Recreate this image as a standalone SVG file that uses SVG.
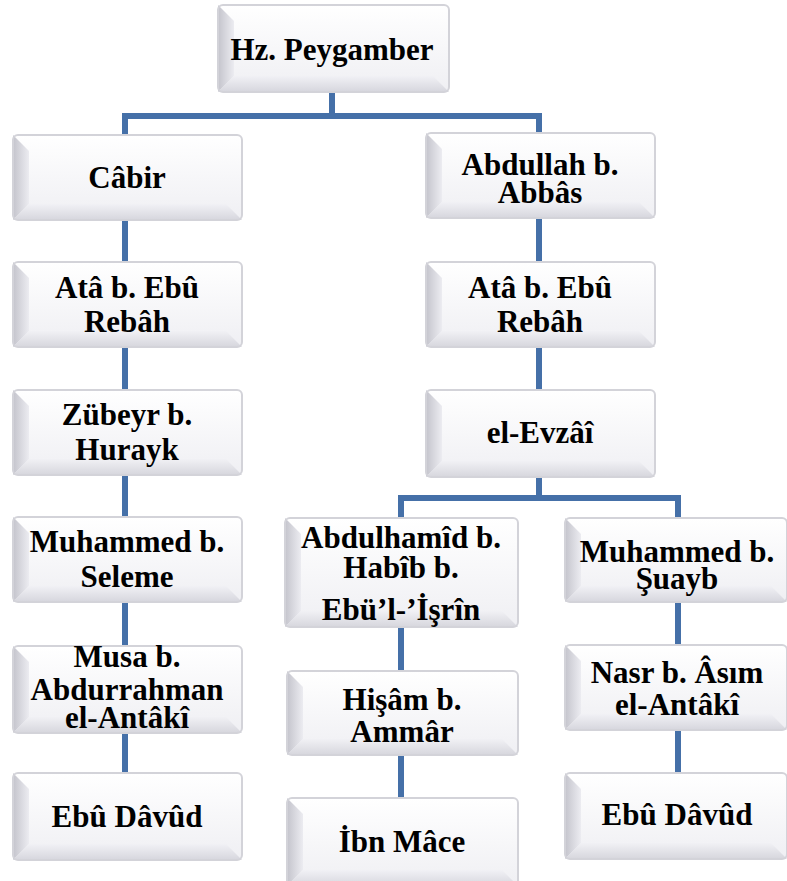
<svg xmlns="http://www.w3.org/2000/svg" width="787" height="881" viewBox="0 0 787 881">
<defs>
<linearGradient id="gFace" x1="0" y1="0" x2="0" y2="1">
<stop offset="0" stop-color="#ffffff"/>
<stop offset="1" stop-color="#efeff3"/>
</linearGradient>
<linearGradient id="gLeft" x1="0" y1="0" x2="1" y2="0">
<stop offset="0" stop-color="#c4c4cc"/>
<stop offset="1" stop-color="#ececf1"/>
</linearGradient>
<linearGradient id="gBot" x1="0" y1="1" x2="0" y2="0">
<stop offset="0" stop-color="#d6d6dd"/>
<stop offset="1" stop-color="#f1f1f5"/>
</linearGradient>
</defs>
<style>
.face{fill:url(#gFace);}
.bl{fill:url(#gLeft);}
.bb{fill:url(#gBot);}
.edge{fill:none;stroke:#d3d3d9;stroke-width:2;}
.t{font-family:"Liberation Serif","Times New Roman",serif;font-weight:bold;font-size:31px;fill:#000;text-anchor:middle;}
.c{fill:none;stroke:#4570a8;stroke-width:6;}
</style>

<g id="connectors">
<path class="c" d="M332,92 V116 M125,135 V116 H539 V133"/>
<path class="c" d="M125,220 V262 M125,347 V390 M125,475 V517 M125,602 V646 M125,733 V773"/>
<path class="c" d="M539,218 V262 M539,347 V390 M539,477 V498 M401,518 V498 H678 V518"/>
<path class="c" d="M401,627 V671 M401,755 V798 M678,602 V645 M678,730 V773"/>
</g>

<g id="n-peygamber">
<rect class="face" x="218" y="5" width="231" height="87" rx="5"/>
<polygon class="bl" points="218,5 234,21 234,76 218,92"/>
<polygon class="bb" points="218,92 234,76 433,76 449,92"/>
<rect class="edge" x="218" y="5" width="231" height="87" rx="5"/>
<text class="t" x="332" y="60">Hz. Peygamber</text>
</g>

<g id="n-cabir">
<rect class="face" x="13" y="135" width="229" height="85" rx="5"/>
<polygon class="bl" points="13,135 29,151 29,204 13,220"/>
<polygon class="bb" points="13,220 29,204 226,204 242,220"/>
<rect class="edge" x="13" y="135" width="229" height="85" rx="5"/>
<text class="t" x="127" y="188">Câbir</text>
</g>

<g id="n-ata-left">
<rect class="face" x="13" y="262" width="229" height="85" rx="5"/>
<polygon class="bl" points="13,262 29,278 29,331 13,347"/>
<polygon class="bb" points="13,347 29,331 226,331 242,347"/>
<rect class="edge" x="13" y="262" width="229" height="85" rx="5"/>
<text class="t" x="127" y="298">Atâ b. Ebû</text>
<text class="t" x="127" y="332">Rebâh</text>
</g>

<g id="n-zubeyr">
<rect class="face" x="13" y="390" width="229" height="85" rx="5"/>
<polygon class="bl" points="13,390 29,406 29,459 13,475"/>
<polygon class="bb" points="13,475 29,459 226,459 242,475"/>
<rect class="edge" x="13" y="390" width="229" height="85" rx="5"/>
<text class="t" x="127" y="425">Zübeyr b.</text>
<text class="t" x="127" y="460">Hurayk</text>
</g>

<g id="n-seleme">
<rect class="face" x="13" y="517" width="229" height="85" rx="5"/>
<polygon class="bl" points="13,517 29,533 29,586 13,602"/>
<polygon class="bb" points="13,602 29,586 226,586 242,602"/>
<rect class="edge" x="13" y="517" width="229" height="85" rx="5"/>
<text class="t" x="127" y="552">Muhammed b.</text>
<text class="t" x="127" y="587">Seleme</text>
</g>

<g id="n-musa">
<rect class="face" x="13" y="646" width="229" height="87" rx="5"/>
<polygon class="bl" points="13,646 29,662 29,717 13,733"/>
<polygon class="bb" points="13,733 29,717 226,717 242,733"/>
<rect class="edge" x="13" y="646" width="229" height="87" rx="5"/>
<text class="t" x="127" y="667">Musa b.</text>
<text class="t" x="127" y="700">Abdurrahman</text>
<text class="t" x="127" y="728">el-Antâkî</text>
</g>

<g id="n-ebudavud-left">
<rect class="face" x="13" y="773" width="229" height="87" rx="5"/>
<polygon class="bl" points="13,773 29,789 29,844 13,860"/>
<polygon class="bb" points="13,860 29,844 226,844 242,860"/>
<rect class="edge" x="13" y="773" width="229" height="87" rx="5"/>
<text class="t" x="127" y="827">Ebû Dâvûd</text>
</g>

<g id="n-abdullah">
<rect class="face" x="426" y="133" width="229" height="85" rx="5"/>
<polygon class="bl" points="426,133 442,149 442,202 426,218"/>
<polygon class="bb" points="426,218 442,202 639,202 655,218"/>
<rect class="edge" x="426" y="133" width="229" height="85" rx="5"/>
<text class="t" x="540" y="175">Abdullah b.</text>
<text class="t" x="540" y="203">Abbâs</text>
</g>

<g id="n-ata-mid">
<rect class="face" x="426" y="262" width="229" height="85" rx="5"/>
<polygon class="bl" points="426,262 442,278 442,331 426,347"/>
<polygon class="bb" points="426,347 442,331 639,331 655,347"/>
<rect class="edge" x="426" y="262" width="229" height="85" rx="5"/>
<text class="t" x="540" y="298">Atâ b. Ebû</text>
<text class="t" x="540" y="332">Rebâh</text>
</g>

<g id="n-evzai">
<rect class="face" x="426" y="390" width="229" height="87" rx="5"/>
<polygon class="bl" points="426,390 442,406 442,461 426,477"/>
<polygon class="bb" points="426,477 442,461 639,461 655,477"/>
<rect class="edge" x="426" y="390" width="229" height="87" rx="5"/>
<text class="t" x="540" y="443">el-Evzâî</text>
</g>

<g id="n-abdulhamid">
<rect class="face" x="285" y="518" width="233" height="109" rx="5"/>
<polygon class="bl" points="285,518 301,534 301,611 285,627"/>
<polygon class="bb" points="285,627 301,611 502,611 518,627"/>
<rect class="edge" x="285" y="518" width="233" height="109" rx="5"/>
<text class="t" x="401" y="548">Abdulhamîd b.</text>
<text class="t" x="401" y="578">Habîb b.</text>
<text class="t" x="401" y="620">Ebü’l-’İşrîn</text>
</g>

<g id="n-hisam">
<rect class="face" x="287" y="671" width="231" height="84" rx="5"/>
<polygon class="bl" points="287,671 303,687 303,739 287,755"/>
<polygon class="bb" points="287,755 303,739 502,739 518,755"/>
<rect class="edge" x="287" y="671" width="231" height="84" rx="5"/>
<text class="t" x="402" y="710">Hişâm b.</text>
<text class="t" x="402" y="742">Ammâr</text>
</g>

<g id="n-ibnmace">
<rect class="face" x="287" y="798" width="231" height="88" rx="5"/>
<polygon class="bl" points="287,798 303,814 303,870 287,886"/>
<polygon class="bb" points="287,886 303,870 502,870 518,886"/>
<rect class="edge" x="287" y="798" width="231" height="88" rx="5"/>
<text class="t" x="402" y="852">İbn Mâce</text>
</g>

<g id="n-suayb">
<rect class="face" x="565" y="518" width="222" height="84" rx="5"/>
<polygon class="bl" points="565,518 581,534 581,586 565,602"/>
<polygon class="bb" points="565,602 581,586 771,586 787,602"/>
<rect class="edge" x="565" y="518" width="222" height="84" rx="5"/>
<text class="t" x="677" y="562">Muhammed b.</text>
<text class="t" x="677" y="589">Şuayb</text>
</g>

<g id="n-nasr">
<rect class="face" x="565" y="645" width="222" height="85" rx="5"/>
<polygon class="bl" points="565,645 581,661 581,714 565,730"/>
<polygon class="bb" points="565,730 581,714 771,714 787,730"/>
<rect class="edge" x="565" y="645" width="222" height="85" rx="5"/>
<text class="t" x="677" y="683">Nasr b. Âsım</text>
<text class="t" x="677" y="715">el-Antâkî</text>
</g>

<g id="n-ebudavud-right">
<rect class="face" x="565" y="773" width="222" height="86" rx="5"/>
<polygon class="bl" points="565,773 581,789 581,843 565,859"/>
<polygon class="bb" points="565,859 581,843 771,843 787,859"/>
<rect class="edge" x="565" y="773" width="222" height="86" rx="5"/>
<text class="t" x="677" y="825">Ebû Dâvûd</text>
</g>
</svg>
